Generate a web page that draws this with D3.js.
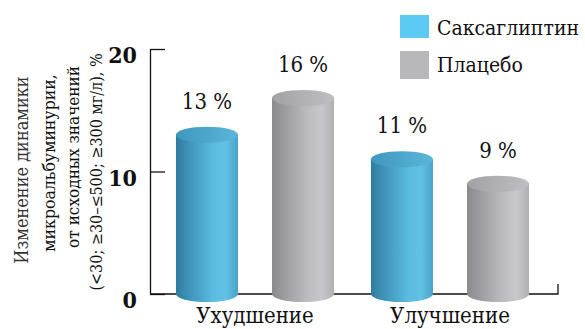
<!DOCTYPE html>
<html>
<head>
<meta charset="utf-8">
<script src="https://cdn.jsdelivr.net/npm/d3@7"></script>
<style>
  html, body { margin: 0; padding: 0; background: #fff; }
  svg { display: block; }
  svg text { font-family: "DejaVu Serif Condensed", "DejaVu Serif", serif; }
</style>
</head>
<body>
<svg id="chart" width="585" height="329"></svg>
<script>
// Categories, series and values
const groups = ["Ухудшение", "Улучшение"];
const seriesNames = ["Саксаглиптин", "Плацебо"];
const saxaValues = [13, 11];
const placeboValues = [16, 9];
const yTicks = [0, 10, 20];
const axisTitleLines = [
  "Изменение динамики",
  "микроальбуминурии,",
  "от исходных значений",
  "(<30; ≥30–≤500; ≥300 мг/л), %"
];

const svg = d3.select("#chart");

const y = d3.scaleLinear().domain([0, 20]).range([294, 49]);
const x0 = d3.scaleBand().domain(groups).range([157.5, 547.5]);
const x1 = d3.scaleBand().domain(seriesNames).range([0, x0.bandwidth()])
  .paddingInner(0.354).paddingOuter(0.192);

const data = groups.map((g, i) => ({
  group: g,
  values: [
    { series: seriesNames[0], value: saxaValues[i] },
    { series: seriesNames[1], value: placeboValues[i] }
  ]
}));

// Gradients for cylinder bodies and tops
const defs = svg.append("defs");
const palette = {
  "Саксаглиптин": { body: ["#307b9e", "#3f92b8", "#5bbbe0", "#62c2e6", "#4aa3c8"], top: ["#3f97bd", "#5ab6da"] },
  "Плацебо": { body: ["#8a8a8e", "#9c9ca0", "#bebec2", "#c8c8cc", "#b0b0b4"], top: ["#a2a2a6", "#bfbfc3"] }
};
seriesNames.forEach((s, i) => {
  const g = defs.append("linearGradient").attr("id", "body" + i)
    .attr("x1", "0").attr("x2", "1").attr("y1", "0").attr("y2", "0");
  const stops = [0, 0.2, 0.6, 0.8, 1];
  palette[s].body.forEach((c, k) => g.append("stop").attr("offset", stops[k]).attr("stop-color", c));
  const t = defs.append("linearGradient").attr("id", "top" + i)
    .attr("x1", "0").attr("x2", "1").attr("y1", "0").attr("y2", "0");
  t.append("stop").attr("offset", 0).attr("stop-color", palette[s].top[0]);
  t.append("stop").attr("offset", 1).attr("stop-color", palette[s].top[1]);
});

// Y axis with inward ticks
const yAxis = d3.axisLeft(y).tickValues(yTicks).tickSize(-15).tickPadding(13).tickSizeOuter(0);
const yg = svg.append("g").attr("transform", `translate(${x0.range()[0] - 7.5},0)`).call(yAxis);
yg.select(".domain").attr("stroke", "#111").attr("stroke-width", 1.3);
yg.selectAll(".tick line").attr("stroke", "#111").attr("stroke-width", 1.3);
yg.selectAll(".tick text")
  .attr("dy", "0.6em")
  .style("font-size", "23px")
  .style("font-weight", "bold")
  .attr("fill", "#111");

// Baseline with a short closing tick at the right end
const xLeft = x0.range()[0] - 7.5;
const xRight = x0.range()[1] + 10.5;
svg.append("path")
  .attr("d", `M${xLeft},${y(0)}H${xRight}V${y(0) - 10}`)
  .attr("fill", "none").attr("stroke", "#111").attr("stroke-width", 1.3);

// Cylinders
const ry = 8;
const gGroups = svg.append("g").selectAll("g").data(data).join("g")
  .attr("transform", d => `translate(${x0(d.group)},0)`);

const cyl = gGroups.selectAll("g.cyl").data(d => d.values).join("g").attr("class", "cyl");

cyl.each(function(d) {
  const gsel = d3.select(this);
  const left = x1(d.series), w = x1.bandwidth(), cx = left + w / 2, rx = w / 2;
  const yt = y(d.value), yb = y(0);
  const idx = seriesNames.indexOf(d.series);
  gsel.append("path")
    .attr("d", `M${left},${yt}V${yb}A${rx},${ry} 0 0 0 ${left + w},${yb}V${yt}Z`)
    .attr("fill", `url(#body${idx})`);
  gsel.append("ellipse")
    .attr("cx", cx).attr("cy", yt).attr("rx", rx).attr("ry", ry)
    .attr("fill", `url(#top${idx})`);
  gsel.append("text")
    .attr("x", cx).attr("y", yt - ry - 18)
    .attr("text-anchor", "middle")
    .style("font-size", "22px")
    .attr("fill", "#111")
    .text(`${d.value} %`);
});

// Category labels
svg.append("g").selectAll("text").data(groups).join("text")
  .attr("x", d => x0(d) + x0.bandwidth() / 2)
  .attr("y", 323)
  .attr("text-anchor", "middle")
  .style("font-size", "22px")
  .attr("fill", "#111")
  .text(d => d);

// Legend
const legendColors = ["#5ccaf2", "#b8b8bb"];
const legend = svg.append("g").selectAll("g").data(seriesNames).join("g")
  .attr("transform", (d, i) => `translate(400,${15 + i * 36})`);
legend.append("rect").attr("width", 29).attr("height", (d, i) => i === 0 ? 23 : 28)
  .attr("fill", (d, i) => legendColors[i]);
legend.append("text").attr("x", 37).attr("y", (d, i) => i === 0 ? 20 : 21)
  .style("font-size", "21px").attr("fill", "#111").text(d => d);

// Rotated axis title, four lines
const title = svg.append("g");
const lineX = [28, 55, 79, 102];
const lineY = [170, 163, 157, 172];
const lineSize = [18, 17.5, 17, 16];
title.selectAll("text").data(axisTitleLines).join("text")
  .attr("transform", (d, i) => `translate(${lineX[i]},${lineY[i]}) rotate(-90)`)
  .attr("text-anchor", "middle")
  .style("font-size", (d, i) => lineSize[i] + "px")
  .attr("fill", (d, i) => i === 0 ? "#333" : "#111")
  .text(d => d);
</script>
</body>
</html>
